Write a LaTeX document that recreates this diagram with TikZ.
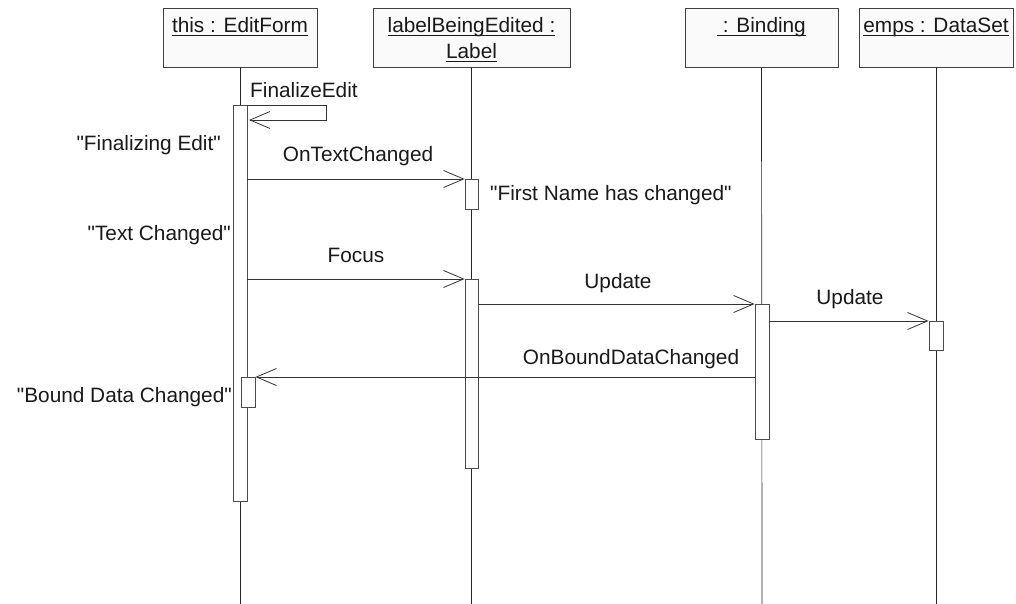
\documentclass[tikz,border=0pt]{standalone}
\usepackage{fontspec}
\newfontfamily\arialf{Liberation Sans}
\usetikzlibrary{arrows.meta}
\newcommand{\qmk}{"}
\newcommand{\uln}[1]{\setbox0=\hbox{#1}\rlap{\copy0}\vrule height -2.0pt depth 3.2pt width \wd0\relax}
\begin{document}
\begin{tikzpicture}[x=1pt,y=-1pt,
  hdr/.style={draw=black!75, fill=black!2, line width=0.8pt, minimum height=59pt, inner sep=0pt},
  lbl/.style={font=\arialf\fontsize{20.8}{26}\selectfont, inner sep=0pt, text=black!90},
  actbar/.style={draw=black!70, fill=white, line width=0.8pt, minimum width=14pt, inner sep=0pt, anchor=north},
  life/.style={draw=black!85, line width=0.7pt},
  msg/.style={draw=black!80, line width=0.8pt, -{Straight Barb[length=20pt,width=17pt]}}]
\useasboundingbox (0,0) rectangle (1016,604);
% header boxes
\node[hdr, minimum width=154pt] (ef) at (240,37.5) {};
\node[hdr, minimum width=197pt] (lb) at (471.5,37.5) {};
\node[hdr, minimum width=153pt] (bd) at (761.5,37.5) {};
\node[hdr, minimum width=154pt] (ds) at (936,37.5) {};
\node[lbl, anchor=base] (eft) at (240,33) {\uln{this : EditForm}};
\node[lbl, anchor=base] (lbt1) at (471.5,33) {\uln{labelBeingEdited :}};
\node[lbl, anchor=base] (lbt2) at (471.5,59) {\uln{Label}};
\node[lbl, anchor=base] (bdt) at (761.5,33) {\uln{\ : Binding}};
\node[lbl, anchor=base] (dst) at (936,33) {\uln{emps : DataSet}};
% lifeline ends
\coordinate (efe) at (240,604);
\coordinate (lbe) at (471.5,604);
\coordinate (bde) at (762,604);
\coordinate (dse) at (936,604);
\draw[life] (ef.south) -- (efe);
\draw[life] (lb.south) -- (lbe);
\draw[life] (bd.south) -- (bde);
\draw[life] (ds.south) -- (dse);
% activation bars
\node[actbar, minimum height=396pt] (efA) at (240,105) {};
\node[actbar, minimum height=30pt] (efB) at (248,377) {};
\node[actbar, minimum height=30pt, minimum width=13pt] (lbA1) at (471.5,179) {};
\node[actbar, minimum height=189pt, minimum width=13pt] (lbA2) at (471.5,279) {};
\node[actbar, minimum height=135pt] (bdA) at (762,304) {};
\node[actbar, minimum height=29pt] (dsA) at (936,321) {};
% self message
\coordinate (sm1) at (326,105);
\coordinate (sm2) at (326,120);
\coordinate (sm3) at (249,120);
\draw[msg] (efA.north east) -- (sm1) -- (sm2) -- (sm3);
\node[lbl, anchor=base west] (fel) at (250,98) {FinalizeEdit};
% messages
\draw[msg] (efA.east |- lbA1.north) -- (lbA1.north west);
\node[lbl, anchor=base] (otc) at (358,162) {OnTextChanged};
\draw[msg] (efA.east |- lbA2.north) -- (lbA2.north west);
\node[lbl, anchor=base] (foc) at (356,262) {Focus};
\draw[msg] (lbA2.east |- bdA.north) -- (bdA.north west);
\node[lbl, anchor=base] (up1) at (618,288) {Update};
\draw[msg] (bdA.east |- dsA.north) -- (dsA.north west);
\node[lbl, anchor=base] (up2) at (850,304) {Update};
\draw[msg] (bdA.west |- efB.north) -- (efB.north east);
\node[lbl, anchor=base] (obd) at (631,364) {OnBoundDataChanged};
% notes
\node[lbl, anchor=base east] (n1) at (221,150) {\qmk Finalizing Edit\qmk};
\node[lbl, anchor=base west] (n2) at (490,200) {\qmk First Name has changed\qmk};
\node[lbl, anchor=base east] (n3) at (231,240) {\qmk Text Changed\qmk};
\node[lbl, anchor=base east] (n4) at (232,402) {\qmk Bound Data Changed\qmk};
\end{tikzpicture}
\end{document}
